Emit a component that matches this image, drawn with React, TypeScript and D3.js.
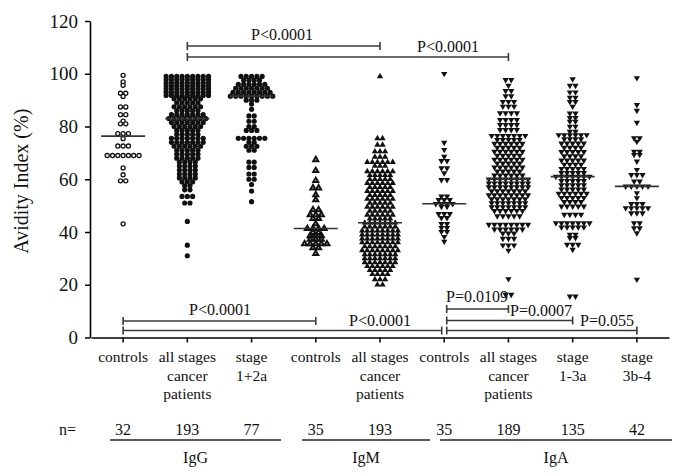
import React, { useRef, useEffect } from "react";
import * as d3 from "d3";

// each row = [avidity index %, number of dots in that row]
const iggControls: [number, number][] = [[99.4,1],[96.9,1],[95.6,1],[92.6,2],[91.4,1],[87.4,2],[84.5,2],[82,1],[81,2],[77.3,3],[75.4,1],[72.6,3],[69,7],[64.3,1],[61.7,1],[59.4,2],[43.1,1]];
const iggAll: [number, number][] = [[99,9],[97.8,9],[96.6,9],[95.4,9],[94.2,9],[93,9],[91.8,9],[90.5,6],[89,5],[87.5,6],[86,5],[84.5,7],[83,8],[81.5,7],[80,6],[78.5,5],[77,5],[75.5,7],[74,7],[72.5,6],[71,5],[69.5,5],[68,5],[66.5,4],[65,4],[63.5,4],[62,4],[60.5,4],[59,3],[57.5,2],[56,2],[53.5,3],[51,2],[44,1],[35,1],[31,1]];
const iggStage12a: [number, number][] = [[99,5],[97.5,4],[96,6],[94.5,7],[93,8],[91.5,9],[90,3],[88.5,1],[86.5,1],[84,2],[82,2],[80,2],[78.5,3],[75.5,6],[74,2],[72.5,3],[71,2],[66.5,2],[64.5,2],[62,2],[60,2],[58,1],[55.5,1],[51.5,1]];
const igmControls: [number, number][] = [[67.4,1],[63.3,1],[59.5,1],[56.7,2],[54.1,1],[52.2,1],[48.4,2],[46.5,3],[45.1,2],[43.1,1],[41.3,4],[39.8,2],[38.6,3],[37.2,3],[35.5,5],[34,2],[31.8,1]];
const igmAll: [number, number][] = [[99,1],[75.5,2],[73,2],[70.5,3],[68.5,3],[66.5,6],[65,3],[63,6],[61.5,5],[60,5],[58.5,6],[57,5],[55.5,6],[54,5],[52.5,6],[51,5],[49.5,6],[48,5],[46.5,6],[45,5],[43.5,7],[42,7],[40.5,8],[39,8],[37.5,8],[36,8],[34.5,7],[33,8],[31.5,7],[30,7],[28.5,7],[27,6],[25.5,5],[24,4],[22,3],[20,2]];
const igaControls: [number, number][] = [[100,1],[73.9,1],[71.2,1],[68.6,1],[67,2],[64.2,2],[62.3,1],[59.8,2],[53.5,2],[52.2,3],[50.7,4],[49.6,2],[46.9,3],[45.4,2],[43.1,2],[41.6,2],[40.1,2],[38.2,1],[36.4,1]];
const igaAll: [number, number][] = [[97.7,2],[95.5,1],[93.5,2],[91.5,2],[89.4,3],[87.6,3],[85.1,4],[82.5,4],[80.6,4],[78.7,4],[76.5,7],[75,5],[73.5,6],[72,5],[70.5,6],[69,5],[67.5,6],[66,5],[64.5,6],[63,5],[61.5,6],[60,8],[58.5,8],[57,8],[55.5,7],[54,8],[52.5,7],[51,7],[49.5,7],[48,6],[46,5],[42.8,8],[41,6],[39.5,3],[37.5,3],[35,3],[33,1],[22.2,1],[16.3,2]];
const igaStage13a: [number, number][] = [[98,1],[95.5,2],[93,2],[91,2],[89.4,2],[87.6,1],[85,2],[83.3,2],[81.9,2],[80,2],[78.1,2],[76.8,6],[75.2,4],[73.6,5],[72,4],[70.4,5],[68.8,4],[67.2,5],[65.6,4],[64,5],[62.4,5],[61,7],[59.4,5],[57.8,5],[56.2,5],[54.6,6],[53,5],[51.4,4],[49.7,5],[46.6,4],[43.4,7],[41.8,5],[39,2],[37.8,2],[35.2,3],[33.3,1],[15.6,2]];
const igaStage3b4: [number, number][] = [[98.4,1],[88.2,1],[86,1],[81.5,1],[75.6,2],[74.3,1],[70.5,2],[69.3,2],[66.8,1],[63.6,1],[61.7,3],[59.2,2],[57.3,5],[54.8,1],[52.9,1],[50.7,3],[49.1,5],[47.2,3],[43.4,2],[41.5,2],[39.6,1],[22,1]];

const categoryKeys = ["iggC", "iggAll", "igg12a", "igmC", "igmAll", "igaC", "igaAll", "iga13a", "iga3b4"];
const categoryLabels = [["controls"], ["all stages", "cancer", "patients"], ["stage", "1+2a"], ["controls"], ["all stages", "cancer", "patients"], ["controls"], ["all stages", "cancer", "patients"], ["stage", "1-3a"], ["stage", "3b-4"]];
const nLabels = [32, 193, 77, 35, 193, 35, 189, 135, 42];
const groupNames = ["IgG", "IgM", "IgA"];
const yTicks = [0, 20, 40, 60, 80, 100, 120];

const rowsByCategory = [iggControls, iggAll, iggStage12a, igmControls, igmAll, igaControls, igaAll, igaStage13a, igaStage3b4];
// marker kind per category
const markers = ["openCircle", "circle", "circle", "openTri", "upTri", "downTri", "downTri", "downTri", "downTri"];

const comparisons = [
  { from: 1, to: 4, level: 46, label: "P<0.0001", lx: 282, ly: 40, anchor: "middle" },
  { from: 1, to: 6, level: 57, label: "P<0.0001", lx: 448, ly: 52, anchor: "middle" },
  { from: 0, to: 3, level: 321, label: "P<0.0001", lx: 220, ly: 315, anchor: "middle" },
  { from: 0, to: 5, level: 330.5, label: "P<0.0001", lx: 380, ly: 326, anchor: "middle", endInset: -2.5 },
  { from: 5, to: 6, level: 309, label: "P=0.0109", lx: 446, ly: 302, anchor: "start", startInset: 2.5 },
  { from: 5, to: 7, level: 320.5, label: "P=0.0007", lx: 510, ly: 316, anchor: "start", startInset: 2.5 },
  { from: 5, to: 8, level: 330.5, label: "P=0.055", lx: 580, ly: 325.5, anchor: "start", startInset: 2.5 },
];
const groupLines = [[110, 281], [302, 430], [440, 672]];

const font = "Liberation Serif, Times New Roman, Times, serif";

function App() {
  const svgRef = useRef<SVGSVGElement>(null);

  useEffect(() => {
    const svg = d3.select(svgRef.current);
    svg.selectAll("*").remove();

    const axisX = 90;
    const y = d3.scaleLinear().domain([0, 120]).range([337.5, 21]);
    const x = d3.scaleBand().domain(categoryKeys).range([91, 669]);
    const cx = (i: number) => (x(categoryKeys[i]) as number) + x.bandwidth() / 2;

    // y axis
    const yg = svg.append("g")
      .attr("transform", `translate(${axisX},0)`)
      .call(d3.axisLeft(y).tickValues(yTicks).tickSize(5).tickSizeOuter(0).tickPadding(7));
    yg.attr("font-family", null);
    yg.selectAll("text").attr("font-size", 19).attr("fill", "#111");
    yg.selectAll("line").attr("stroke-width", 1.5);
    yg.select(".domain").attr("stroke-width", 1.6);

    // x axis
    const xg = svg.append("g")
      .attr("transform", `translate(0,${y(0)})`)
      .call(d3.axisBottom(x).tickSize(5).tickSizeOuter(0).tickFormat(() => ""));
    xg.selectAll("line").attr("stroke-width", 1.5);
    xg.select(".domain").attr("stroke-width", 1.6);

    svg.append("text")
      .attr("transform", `translate(28,${(y(0) + y(120)) / 2 + 2}) rotate(-90)`)
      .attr("text-anchor", "middle")
      .attr("font-size", 20).attr("fill", "#111")
      .text("Avidity Index (%)");

    // dots
    const circle = d3.symbol().type(d3.symbolCircle);
    const tri = d3.symbol().type(d3.symbolTriangle);
    rowsByCategory.forEach((rows, i) => {
      const kind = markers[i];
      const spacing = kind === "upTri" ? 5.1 : kind.includes("Tri") ? 5.6 : 5.3;
      const g = svg.append("g");
      const pts: { v: number; dx: number }[] = [];
      rows.forEach(([v, n]) => {
        for (let k = 0; k < n; k++) pts.push({ v, dx: (k - (n - 1) / 2) * spacing });
      });
      const sel = g.selectAll("path").data(pts).join("path")
        .attr("transform", d => `translate(${cx(i) + d.dx},${y(d.v)})${kind === "downTri" ? " rotate(180)" : ""}`);
      if (kind === "openCircle") {
        sel.attr("d", circle.size(13)()).attr("fill", "#fff").attr("stroke", "#111").attr("stroke-width", 1.3);
      } else if (kind === "circle") {
        sel.attr("d", circle.size(21)()).attr("fill", "#111");
      } else if (kind === "openTri") {
        sel.attr("d", tri.size(11)()).attr("fill", "#fff").attr("stroke", "#111").attr("stroke-width", 2).attr("stroke-linejoin", "miter");
      } else {
        sel.attr("d", tri.size(17)()).attr("fill", "#111");
      }

      const values: number[] = [];
      rows.forEach(([v, n]) => { for (let k = 0; k < n; k++) values.push(v); });
      const med = d3.median(values) as number;
      svg.append("line")
        .attr("x1", cx(i) - 22).attr("x2", cx(i) + 22)
        .attr("y1", y(med)).attr("y2", y(med))
        .attr("stroke", "#333").attr("stroke-width", 1.6);
    });

    // comparison brackets
    comparisons.forEach(c => {
      const x1 = cx(c.from) + (c.startInset || 0);
      const x2 = cx(c.to) + (c.endInset || 0);
      const g = svg.append("g").attr("stroke", "#3a3a3a").attr("stroke-width", 1.6);
      g.append("line").attr("x1", x1).attr("x2", x2).attr("y1", c.level).attr("y2", c.level);
      g.append("line").attr("x1", x1).attr("x2", x1).attr("y1", c.level - 4).attr("y2", c.level + 4);
      g.append("line").attr("x1", x2).attr("x2", x2).attr("y1", c.level - 4).attr("y2", c.level + 4);
      svg.append("text")
        .attr("x", c.lx).attr("y", c.ly)
        .attr("text-anchor", c.anchor)
        .attr("font-size", 16).attr("fill", "#111")
        .text(c.label);
    });

    // category labels
    categoryLabels.forEach((lines, i) => {
      const t = svg.append("text")
        .attr("text-anchor", "middle")
        .attr("font-size", 15.5).attr("fill", "#111");
      lines.forEach((s, k) => {
        t.append("tspan").attr("x", cx(i)).attr("y", 362 + k * 18.5).text(s);
      });
    });

    // n= row
    svg.append("text").attr("x", 76).attr("y", 435).attr("text-anchor", "end")
      .attr("font-size", 16).attr("fill", "#111").text("n=");
    nLabels.forEach((n, i) => {
      svg.append("text").attr("x", cx(i)).attr("y", 435).attr("text-anchor", "middle")
        .attr("font-size", 16).attr("fill", "#111").text(n);
    });

    groupLines.forEach(([a, b], i) => {
      svg.append("line").attr("x1", a).attr("x2", b).attr("y1", 440).attr("y2", 440)
        .attr("stroke", "#222").attr("stroke-width", 1.5);
      svg.append("text").attr("x", (a + b) / 2).attr("y", 463).attr("text-anchor", "middle")
        .attr("font-size", 16).attr("fill", "#111").text(groupNames[i]);
    });
  }, []);

  return (
    <svg ref={svgRef} width={683} height={476}
      style={{ position: "absolute", left: 0, top: 0, background: "#fff", fontFamily: font }} />
  );
}

export default App;
